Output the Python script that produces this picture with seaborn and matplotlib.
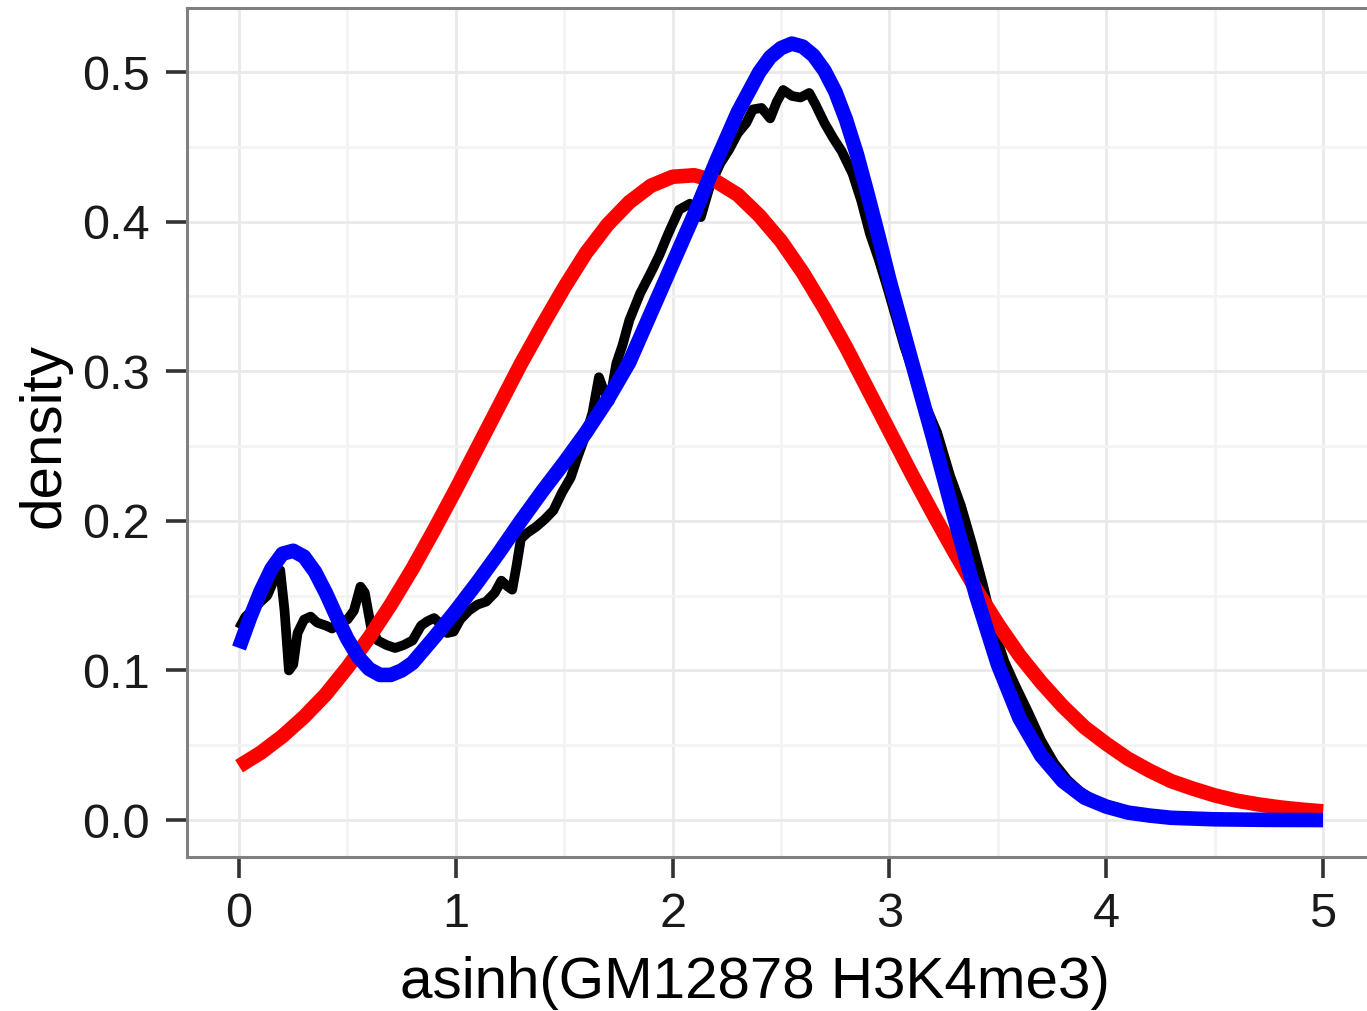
import numpy as np
import pandas as pd
import matplotlib
matplotlib.use("Agg")
import matplotlib.pyplot as plt
import seaborn as sns

# ---- data ----
# empirical density (black)
emp_x = [0.00, 0.03, 0.06, 0.10, 0.13, 0.16, 0.19, 0.21, 0.23, 0.25, 0.27, 0.30, 0.33, 0.36,
         0.40, 0.43, 0.46, 0.50, 0.53, 0.56, 0.58, 0.61, 0.64, 0.68, 0.72, 0.76, 0.80, 0.84,
         0.87, 0.90, 0.93, 0.96, 0.99, 1.02, 1.06, 1.10, 1.14, 1.18, 1.21, 1.24, 1.26, 1.28,
         1.30, 1.33, 1.37, 1.41, 1.45, 1.49, 1.53, 1.56, 1.60, 1.63, 1.66, 1.68, 1.71, 1.74,
         1.77, 1.80, 1.85, 1.90, 1.94, 1.98, 2.03, 2.08, 2.13, 2.17, 2.22, 2.26, 2.30, 2.34,
         2.37, 2.41, 2.45, 2.48, 2.51, 2.55, 2.59, 2.63, 2.66, 2.70, 2.74, 2.78, 2.83, 2.87,
         2.91, 2.95, 2.99, 3.03, 3.07, 3.12, 3.17, 3.22, 3.28, 3.33, 3.38, 3.43, 3.48, 3.53,
         3.58, 3.64, 3.70, 3.76, 3.82, 3.88, 3.95, 4.02, 4.10, 4.20, 4.35, 4.50]
emp_y = [0.128, 0.136, 0.140, 0.146, 0.150, 0.160, 0.167, 0.140, 0.100, 0.104, 0.125, 0.134, 0.136, 0.132,
         0.130, 0.128, 0.133, 0.134, 0.140, 0.156, 0.152, 0.128, 0.120, 0.117, 0.115, 0.117, 0.120, 0.130,
         0.133, 0.135, 0.131, 0.125, 0.126, 0.134, 0.140, 0.144, 0.146, 0.152, 0.160, 0.156, 0.154, 0.170,
         0.188, 0.192, 0.196, 0.201, 0.207, 0.219, 0.229, 0.242, 0.258, 0.272, 0.296, 0.288, 0.280, 0.305,
         0.318, 0.334, 0.352, 0.366, 0.378, 0.392, 0.408, 0.412, 0.403, 0.423, 0.439, 0.448, 0.459, 0.466,
         0.475, 0.476, 0.469, 0.480, 0.488, 0.484, 0.483, 0.486, 0.478, 0.466, 0.456, 0.447, 0.432, 0.414,
         0.392, 0.375, 0.356, 0.336, 0.316, 0.295, 0.276, 0.259, 0.230, 0.210, 0.185, 0.158, 0.128, 0.106,
         0.090, 0.072, 0.053, 0.038, 0.027, 0.019, 0.013, 0.008, 0.005, 0.003, 0.001, 0.0003]

# normal fit (red)
norm_x = [round(0.1 * i, 1) for i in range(51)]
norm_y = [0.036, 0.045, 0.056, 0.069, 0.084, 0.102, 0.122, 0.144, 0.168, 0.194,
          0.221, 0.249, 0.277, 0.305, 0.331, 0.356, 0.379, 0.398, 0.413, 0.424,
          0.430, 0.431, 0.427, 0.418, 0.404, 0.387, 0.366, 0.342, 0.316, 0.288,
          0.260, 0.232, 0.205, 0.179, 0.154, 0.131, 0.110, 0.092, 0.076, 0.062,
          0.051, 0.041, 0.033, 0.026, 0.021, 0.0165, 0.013, 0.0105, 0.0085, 0.007,
          0.0058]

# mixture fit (blue)
mix_x = [0.00, 0.05, 0.10, 0.15, 0.20, 0.25, 0.30, 0.35, 0.40, 0.45, 0.50, 0.55, 0.60, 0.65,
         0.70, 0.75, 0.80, 0.90, 1.00, 1.10, 1.20, 1.30, 1.40, 1.50, 1.60, 1.70, 1.80, 1.90,
         2.00, 2.10, 2.20, 2.30, 2.40, 2.45, 2.50, 2.55, 2.60, 2.65, 2.70, 2.75, 2.80, 2.85,
         2.90, 2.95, 3.00, 3.10, 3.20, 3.30, 3.40, 3.50, 3.60, 3.70, 3.80, 3.90, 4.00, 4.10,
         4.20, 4.30, 4.50, 4.75, 5.00]
mix_y = [0.115, 0.135, 0.153, 0.168, 0.178, 0.180, 0.176, 0.166, 0.152, 0.136, 0.121, 0.109, 0.101, 0.097,
         0.097, 0.100, 0.105, 0.122, 0.140, 0.159, 0.179, 0.200, 0.220, 0.239, 0.259, 0.281, 0.306, 0.339,
         0.372, 0.405, 0.440, 0.473, 0.500, 0.510, 0.516, 0.519, 0.517, 0.511, 0.501, 0.487, 0.468, 0.445,
         0.418, 0.390, 0.361, 0.308, 0.256, 0.202, 0.150, 0.104, 0.068, 0.043, 0.026, 0.015, 0.009, 0.005,
         0.003, 0.0015, 0.0005, 0.0001, 0.0]

x_ticks = [0, 1, 2, 3, 4, 5]
y_ticks = [0.0, 0.1, 0.2, 0.3, 0.4, 0.5]
y_tick_labels = ["0.0", "0.1", "0.2", "0.3", "0.4", "0.5"]
x_label = "asinh(GM12878 H3K4me3)"
y_label = "density"

# ---- plotting ----
sns.set_theme(style="white")
plt.rcParams['font.family'] = ['Liberation Sans', 'DejaVu Sans']

fig = plt.figure(figsize=(13.67, 10.11), dpi=100)
ax = fig.add_axes([187 / 1367, 1 - 857 / 1011, 0.8707, 849 / 1011])
ax.set_facecolor('white')

# gridlines
ax.set_xticks([0.5, 1.5, 2.5, 3.5, 4.5], minor=True)
ax.set_yticks([0.05, 0.15, 0.25, 0.35, 0.45], minor=True)
ax.grid(True, which='major', color='#e9e9e9', linewidth=2.0)
ax.grid(True, which='minor', color='#f3f3f3', linewidth=2.0)
ax.set_axisbelow(True)

df_emp = pd.DataFrame({'x': emp_x, 'y': emp_y})
df_norm = pd.DataFrame({'x': norm_x, 'y': norm_y})
df_mix = pd.DataFrame({'x': mix_x, 'y': mix_y})

sns.lineplot(data=df_emp, x='x', y='y', ax=ax, color='black', linewidth=7,
             sort=False, solid_joinstyle='round', solid_capstyle='butt')
sns.lineplot(data=df_norm, x='x', y='y', ax=ax, color='#ff0000', linewidth=10.5,
             sort=False, solid_joinstyle='round', solid_capstyle='butt')
sns.lineplot(data=df_mix, x='x', y='y', ax=ax, color='#0000ff', linewidth=10.5,
             sort=False, solid_joinstyle='round', solid_capstyle='butt')

ax.set_xlim(-0.24, 5.25)
ax.set_ylim(-0.0247, 0.5428)
ax.set_xticks(x_ticks)
ax.set_xticklabels([str(t) for t in x_ticks])
ax.set_yticks(y_ticks)
ax.set_yticklabels(y_tick_labels)

ax.tick_params(axis='both', which='major', direction='out', length=15, width=2.6,
               color='#333333', labelsize=35, labelcolor='#1a1a1a',
               bottom=True, left=True, top=False, right=False)
ax.tick_params(axis='y', pad=12)
ax.tick_params(axis='x', pad=10)
ax.tick_params(axis='both', which='minor', length=0)

for side in ['left', 'bottom', 'top', 'right']:
    ax.spines[side].set_visible(True)
    ax.spines[side].set_color('#808080')
    ax.spines[side].set_linewidth(2.2)

ax.set_xlabel('')
ax.set_ylabel('')
fig.text(755 / 1367, 1 - 983 / 1011, x_label, ha='center', va='center', fontsize=42, color='black')
fig.text(45 / 1367, 1 - 435 / 1011, y_label, ha='center', va='center', fontsize=42,
         color='black', rotation=90)

fig.savefig('out.png', dpi=100)
